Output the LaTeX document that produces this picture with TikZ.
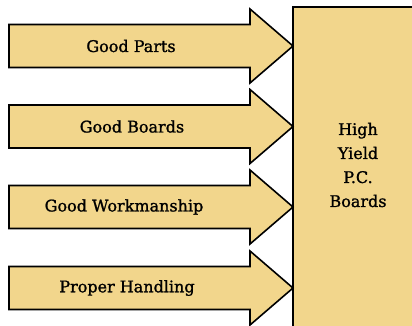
\documentclass[tikz,border=0pt]{standalone}
\usepackage{fontspec}
\setmainfont{DejaVu Serif}
\newfontfamily\lblfont[BoldFont={DejaVu Serif},BoldFeatures={FakeBold=1.3}]{DejaVu Serif}
\definecolor{tan}{RGB}{242,214,140}
\begin{document}
\begin{tikzpicture}[x=1pt,y=-1pt,
  shapeline/.style={draw=black,line width=1.6pt,fill=tan,line join=miter},
  lbl/.style={font=\lblfont\bfseries\fontsize{16}{19}\selectfont,inner sep=0pt},
  boxlbl/.style={font=\lblfont\bfseries\fontsize{16}{24}\selectfont,align=center,inner sep=0pt}]
\useasboundingbox (0,0) rectangle (412,325);
\clip (0,0) rectangle (412,325);
\fill[white] (0,0) rectangle (412,325);
% target box
\draw[shapeline] (293,340) -- (293,7) -- (440,7);
\fill[tan] (294,8) rectangle (440,340);
\node[boxlbl] (result) at (358,165) {High\\Yield\\P.C.\\Boards};
\coordinate (boxedge) at (293,165);
% arrows
\foreach \t/\lx/\txt/\nm in {46/131/Good Parts/a, 126.5/132/Good Boards/b, 207/124/Good Workmanship/c, 288/127/Proper Handling/d}{
  \draw[shapeline] (9,\t-21.5) -- (250,\t-21.5) -- (250,\t-37) -- (293,\t) -- (250,\t+37) -- (250,\t+21.5) -- (9,\t+21.5) -- cycle;
  \node[lbl] (\nm) at (\lx,\t) {\txt};
}
\end{tikzpicture}
\end{document}
